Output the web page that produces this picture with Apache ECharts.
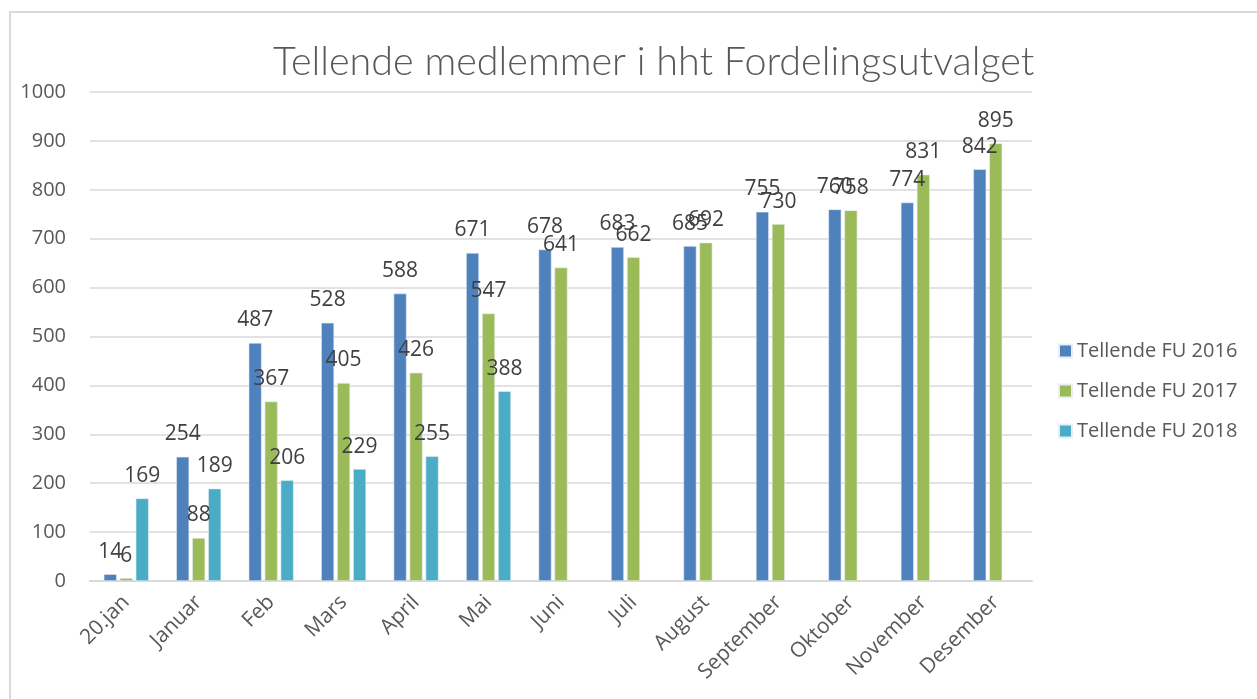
<!DOCTYPE html>
<html>
<head>
<meta charset="utf-8">
<script src="https://cdn.jsdelivr.net/npm/echarts@6/dist/echarts.min.js"></script>
<style>
    html, body { margin: 0; padding: 0; background: #fff; }
    #frame { position: absolute; left: 9px; top: 11px; width: 1250px; height: 700px;
             border-top: 2px solid #d9d9d9; border-left: 2px solid #d9d9d9; }
    #chart { position: absolute; left: 0; top: 0; width: 1257px; height: 699px; }
</style>
</head>
<body>
<div id="frame"></div>
<div id="chart"></div>
<script>
// 类目与数据
var categories = ['20.jan', 'Januar', 'Feb', 'Mars', 'April', 'Mai', 'Juni', 'Juli', 'August', 'September', 'Oktober', 'November', 'Desember'];
var fu2016 = [14, 254, 487, 528, 588, 671, 678, 683, 685, 755, 760, 774, 842];
var fu2017 = [6, 88, 367, 405, 426, 547, 641, 662, 692, 730, 758, 831, 895];
var fu2018 = [169, 189, 206, 229, 255, 388, '-', '-', '-', '-', '-', '-', '-'];
var seriesNames = ['Tellende FU 2016', 'Tellende FU 2017', 'Tellende FU 2018'];
var colors = ['#4F81BD', '#9BBB59', '#4BACC6'];

var textColor = '#595959';
var font = 'Open Sans';

function makeSeries(name, data, color) {
    return {
        name: name,
        type: 'bar',
        data: data,
        barWidth: 13,
        barGap: '23%',
        itemStyle: {
            color: color,
            borderColor: '#e8eef8', //浅色描边
            borderWidth: 0.6
        },
        label: {
            show: true,
            position: 'top',
            distance: 12,
            color: '#404040',
            fontFamily: font,
            fontSize: 21
        }
    };
}

var myChart = echarts.init(document.getElementById('chart'));
myChart.setOption({
    animation: false,
    title: {
        text: 'Tellende medlemmer i hht Fordelingsutvalget',
        left: 268,
        top: 37,
        textStyle: {
            color: textColor,
            fontFamily: 'Lato',
            fontWeight: 300,
            fontSize: 39.5
        }
    },
    legend: {
        orient: 'vertical',
        left: 1053,
        top: 336,
        itemWidth: 13,
        itemHeight: 13,
        itemGap: 20,
        icon: 'rect',
        textStyle: {
            color: textColor,
            fontFamily: font,
            fontSize: 20
        },
        data: seriesNames
    },
    grid: {
        left: 90,
        right: 225,
        top: 92,
        bottom: 118,
        containLabel: false
    },
    xAxis: {
        type: 'category',
        data: categories,
        axisTick: { show: false },
        axisLine: { lineStyle: { color: '#d9d9d9', width: 2 } },
        axisLabel: {
            rotate: 45,
            margin: 18,
            color: textColor,
            fontFamily: font,
            fontSize: 21,
            interval: 0
        }
    },
    yAxis: {
        type: 'value',
        min: 0,
        max: 1000,
        interval: 100,
        axisLine: { show: false },
        axisTick: { show: false },
        splitLine: { lineStyle: { color: '#d9d9d9', width: 1.5 } },
        axisLabel: {
            margin: 24,
            color: textColor,
            fontFamily: font,
            fontSize: 20,
            formatter: function (v) { return String(v); }
        }
    },
    series: [
        makeSeries(seriesNames[0], fu2016, colors[0]),
        makeSeries(seriesNames[1], fu2017, colors[1]),
        makeSeries(seriesNames[2], fu2018, colors[2])
    ]
});
</script>
</body>
</html>
